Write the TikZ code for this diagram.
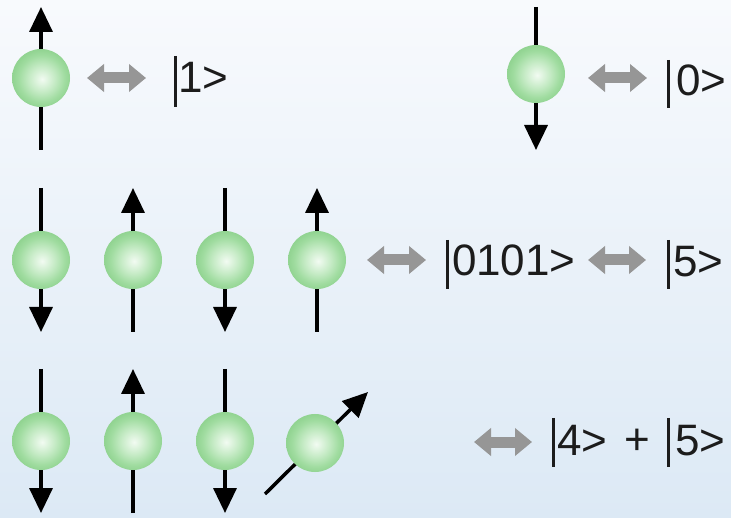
\documentclass[tikz,border=0pt]{standalone}
\usepackage{fontspec}
\setmainfont{Liberation Sans}
\usetikzlibrary{arrows.meta}

% colours
\definecolor{bgtop}{RGB}{248,250,253}
\definecolor{bgbot}{RGB}{220,233,245}
\definecolor{ballin}{RGB}{242,251,242}
\definecolor{ballmid}{RGB}{198,235,198}
\definecolor{ballout}{RGB}{160,220,160}
\definecolor{balledge}{RGB}{146,212,146}
\definecolor{dblarrow}{RGB}{150,150,150}
\definecolor{ink}{RGB}{28,28,28}

% radial shading for the spin balls
\pgfdeclareradialshading{ball}{\pgfpoint{1bp}{-1bp}}{%
  color(0bp)=(ballin); color(11bp)=(ballmid);
  color(20bp)=(ballout); color(25bp)=(balledge); color(50bp)=(balledge)}

\tikzset{
  ballnode/.style={circle, minimum size=58pt, inner sep=0pt, shading=ball},
  spinline/.style={line width=3.5pt, draw=black},
  spinarrow/.style={spinline, -{Triangle[width=23pt,length=25pt]}},
  equiv/.style={draw=dblarrow, line width=11pt,
    {Triangle[width=27pt,length=17pt]}-{Triangle[width=27pt,length=17pt]}},
  ket/.style={anchor=base west, inner sep=0pt, outer sep=0pt, text=ink,
    font=\fontsize{44}{50}\selectfont},
  ketbar/.style={line width=3pt, draw=ink},
}

\begin{document}
\begin{tikzpicture}[x=1pt, y=-1pt]
  % background
  \shade[top color=bgtop, bottom color=bgbot] (0,0) rectangle (731,518);
  \useasboundingbox (0,0) rectangle (731,518);

  % ---------- spin axes (drawn below the balls) ----------
  % row 1
  \coordinate (a1t) at (41,7);    \coordinate (a1b) at (41,150);
  \coordinate (b1t) at (536,7);   \coordinate (b1b) at (536,150);
  \draw[spinarrow] (a1b) -- (a1t);
  \draw[spinarrow] (b1t) -- (b1b);
  % row 2
  \coordinate (c1t) at (41,188);  \coordinate (c1b) at (41,332);
  \coordinate (c2t) at (133,188); \coordinate (c2b) at (133,332);
  \coordinate (c3t) at (225,188); \coordinate (c3b) at (225,332);
  \coordinate (c4t) at (317,188); \coordinate (c4b) at (317,332);
  \draw[spinarrow] (c1t) -- (c1b);
  \draw[spinarrow] (c2b) -- (c2t);
  \draw[spinarrow] (c3t) -- (c3b);
  \draw[spinarrow] (c4b) -- (c4t);
  % row 3
  \coordinate (d1t) at (41,369);  \coordinate (d1b) at (41,513);
  \coordinate (d2t) at (133,369); \coordinate (d2b) at (133,513);
  \coordinate (d3t) at (225,369); \coordinate (d3b) at (225,513);
  \coordinate (d4t) at (368,392); \coordinate (d4b) at (265,494);
  \draw[spinarrow] (d1t) -- (d1b);
  \draw[spinarrow] (d2b) -- (d2t);
  \draw[spinarrow] (d3t) -- (d3b);
  \draw[spinarrow] (d4b) -- (d4t);

  % ---------- balls ----------
  \node[ballnode] (a1) at (41,78) {};
  \node[ballnode] (b1) at (536,74) {};
  \node[ballnode] (c1) at (41,260) {};
  \node[ballnode] (c2) at (133,260) {};
  \node[ballnode] (c3) at (225,260) {};
  \node[ballnode] (c4) at (317,260) {};
  \node[ballnode] (d1) at (41,441) {};
  \node[ballnode] (d2) at (133,441) {};
  \node[ballnode] (d3) at (225,441) {};
  \node[ballnode] (d4) at (315,443) {};

  % ---------- equivalence arrows ----------
  \coordinate (e1l) at (87,78);   \coordinate (e1r) at (146,78);
  \coordinate (e2l) at (588,78);  \coordinate (e2r) at (647,78);
  \coordinate (e3l) at (367,260); \coordinate (e3r) at (426,260);
  \coordinate (e4l) at (588,260); \coordinate (e4r) at (646,260);
  \coordinate (e5l) at (474,442); \coordinate (e5r) at (532,442);
  \draw[equiv] (e1l) -- (e1r);
  \draw[equiv] (e2l) -- (e2r);
  \draw[equiv] (e3l) -- (e3r);
  \draw[equiv] (e4l) -- (e4r);
  \draw[equiv] (e5l) -- (e5r);

  % ---------- kets ----------
  \draw[ketbar] (175,56) -- (175,107);
  \node[ket] (k1) at (178,93) {1>};
  \draw[ketbar] (668,60) -- (668,108);
  \node[ket] (k0) at (676,96) {0>};
  \draw[ketbar] (447,240) -- (447,289);
  \node[ket] (k0101) at (452,276) {0101>};
  \draw[ketbar] (668,240) -- (668,289);
  \node[ket] (k5) at (673,277) {5>};
  \draw[ketbar] (553,418) -- (553,467);
  \node[ket] (k4) at (557,455) {4>};
  \node[ket, anchor=base] (kplus) at (637,454) {+};
  \draw[ketbar] (668,418) -- (668,467);
  \node[ket] (k5b) at (675,455) {5>};
\end{tikzpicture}
\end{document}
